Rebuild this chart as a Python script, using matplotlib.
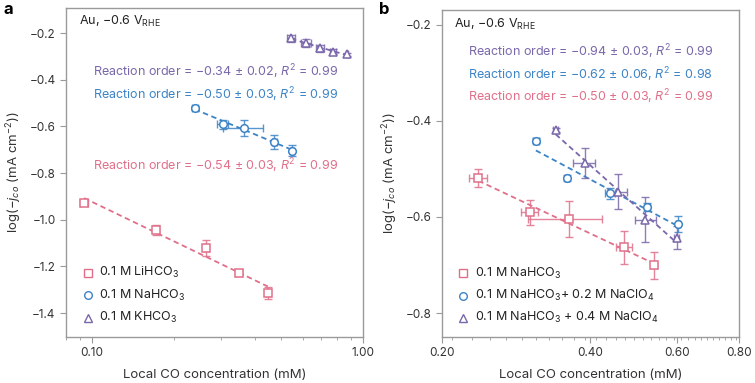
import matplotlib
matplotlib.use('Agg')
import matplotlib.pyplot as plt
import numpy as np
from matplotlib.ticker import FixedLocator, NullFormatter

plt.rcParams['font.family'] = ['Inter', 'DejaVu Sans']
plt.rcParams['mathtext.fontset'] = 'custom'
plt.rcParams['mathtext.rm'] = 'Inter'
plt.rcParams['mathtext.it'] = 'Inter:italic'

red = '#e0708a'
blue = '#3d84c6'
purple = '#7a68aa'
spine_col = '#9a9a9a'
text_col = '#333333'

# panel a: cation series
a_li_x = [0.0934, 0.172, 0.263, 0.348, 0.445]
a_li_y = [-0.927, -1.044, -1.122, -1.227, -1.315]
a_li_xerr = [0.003, 0.004, 0.005, 0.008, 0.008]
a_li_yerr = [0.008, 0.02, 0.035, 0.01, 0.025]

a_na_x = [0.239, 0.303, 0.365, 0.471, 0.546]
a_na_y = [-0.522, -0.591, -0.606, -0.666, -0.704]
a_na_xerr = [0.006, 0.015, 0.062, 0.01, 0.01]
a_na_yerr = [0.01, 0.02, 0.035, 0.03, 0.022]

a_k_x = [0.542, 0.616, 0.693, 0.774, 0.873]
a_k_y = [-0.223, -0.242, -0.266, -0.280, -0.291]
a_k_xerr = [0.02, 0.025, 0.025, 0.02, 0.01]
a_k_yerr = [0.014, 0.016, 0.016, 0.01, 0.006]

a_labels = ['0.1 M LiHCO$_3$', '0.1 M NaHCO$_3$', '0.1 M KHCO$_3$']
a_orders = ['Reaction order = \u22120.54 \u00b1 0.03, $\\mathit{R}^2$ = 0.99',
            'Reaction order = \u22120.50 \u00b1 0.03, $\\mathit{R}^2$ = 0.99',
            'Reaction order = \u22120.34 \u00b1 0.02, $\\mathit{R}^2$ = 0.99']

# panel b: NaClO4 series
b_0_x = [0.237, 0.301, 0.361, 0.468, 0.538]
b_0_y = [-0.519, -0.590, -0.604, -0.663, -0.701]
b_0_xerr = [0.01, 0.012, 0.062, 0.018, 0.008]
b_0_yerr = [0.018, 0.026, 0.038, 0.034, 0.028]

b_2_x = [0.310, 0.358, 0.438, 0.521, 0.602]
b_2_y = [-0.441, -0.519, -0.551, -0.579, -0.615]
b_2_xerr = [0.004, 0.003, 0.01, 0.006, 0.006]
b_2_yerr = [0.005, 0.006, 0.012, 0.008, 0.016]

b_4_x = [0.340, 0.389, 0.455, 0.517, 0.598]
b_4_y = [-0.419, -0.488, -0.547, -0.606, -0.643]
b_4_xerr = [0.004, 0.02, 0.02, 0.025, 0.008]
b_4_yerr = [0.005, 0.031, 0.036, 0.047, 0.024]

b_labels = ['0.1 M NaHCO$_3$', '0.1 M NaHCO$_3$+ 0.2 M NaClO$_4$',
            '0.1 M NaHCO$_3$ + 0.4 M NaClO$_4$']
b_orders = ['Reaction order = \u22120.50 \u00b1 0.03, $\\mathit{R}^2$ = 0.99',
            'Reaction order = \u22120.62 \u00b1 0.06, $\\mathit{R}^2$ = 0.98',
            'Reaction order = \u22120.94 \u00b1 0.03, $\\mathit{R}^2$ = 0.99']


def draw_series(ax, x, y, xerr, yerr, color, marker):
    x = np.array(x)
    y = np.array(y)
    # dashed fit in log-log
    k, b = np.polyfit(np.log10(x), y, 1)
    xx = np.array([x.min(), x.max()])
    ax.plot(xx, k * np.log10(xx) + b, ls=(0, (3, 2)), color=color, lw=1.3, zorder=2)
    ax.errorbar(x, y, xerr=xerr, yerr=yerr, fmt='none', ecolor=color, elinewidth=1,
                capsize=3, capthick=1, alpha=0.85, zorder=3)
    ax.plot(x, y, ls='none', marker=marker, ms=5.5, mfc='white', mec=color, mew=1.1, zorder=4)


def style_axes(ax):
    for s in ax.spines.values():
        s.set_color(spine_col)
        s.set_linewidth(1)
    ax.tick_params(axis='both', which='both', color=spine_col, labelcolor=text_col,
                   labelsize=8.5, direction='out')
    ax.tick_params(axis='both', which='major', length=4)
    ax.tick_params(axis='x', which='minor', length=2)
    ax.tick_params(top=False, right=False)
    ax.set_xlabel('Local CO concentration (mM)', fontsize=9.5, color=text_col, labelpad=7)
    ax.set_ylabel('log(\u2212$\\mathit{j}_{\\mathit{co}}$ (mA cm$^{\u22122}$))',
                  fontsize=9.5, color=text_col, labelpad=4)


fig = plt.figure(figsize=(7.55, 3.83), dpi=100)
ax_a = fig.add_axes([0.0874, 0.120, 0.3934, 0.859])
ax_b = fig.add_axes([0.5854, 0.120, 0.3934, 0.854])

markers = ['s', 'o', '^']
fs = 9

# ---- panel a
cols = [red, blue, purple]
draw_series(ax_a, a_li_x, a_li_y, a_li_xerr, a_li_yerr, red, 's')
draw_series(ax_a, a_na_x, a_na_y, a_na_xerr, a_na_yerr, blue, 'o')
draw_series(ax_a, a_k_x, a_k_y, a_k_xerr, a_k_yerr, purple, '^')
ax_a.set_xscale('log')
ax_a.set_xlim(0.08, 1.0)
ax_a.set_ylim(-1.503, -0.093)
ax_a.xaxis.set_major_locator(FixedLocator([0.1, 1.0]))
ax_a.set_xticklabels(['0.10', '1.00'])
ax_a.xaxis.set_minor_formatter(NullFormatter())
ax_a.set_yticks([-0.2, -0.4, -0.6, -0.8, -1.0, -1.2, -1.4])
ax_a.set_yticklabels(['\u22120.2', '\u22120.4', '\u22120.6', '\u22120.8', '\u22121.0', '\u22121.2', '\u22121.4'])
style_axes(ax_a)

ax_a.text(0.045, 0.96, 'Au, \u22120.6 V$_{\\mathrm{RHE}}$', transform=ax_a.transAxes,
          fontsize=fs, color='#222222', va='center', ha='left')
ax_a.text(0.09, 0.808, a_orders[2], transform=ax_a.transAxes, fontsize=fs, color=purple, va='center')
ax_a.text(0.09, 0.736, a_orders[1], transform=ax_a.transAxes, fontsize=fs, color=blue, va='center')
ax_a.text(0.09, 0.522, a_orders[0], transform=ax_a.transAxes, fontsize=fs, color=red, va='center')

for i, (lab, c, m) in enumerate(zip(a_labels, cols, markers)):
    yy = 0.195 - i * 0.068
    ax_a.plot([0.074], [yy], transform=ax_a.transAxes, marker=m, ms=5.5, mfc='white',
              mec=c, mew=1, ls='none')
    ax_a.text(0.11, yy, lab, transform=ax_a.transAxes, fontsize=fs, color='#222222', va='center')

# ---- panel b
draw_series(ax_b, b_0_x, b_0_y, b_0_xerr, b_0_yerr, red, 's')
draw_series(ax_b, b_2_x, b_2_y, b_2_xerr, b_2_yerr, blue, 'o')
draw_series(ax_b, b_4_x, b_4_y, b_4_xerr, b_4_yerr, purple, '^')
ax_b.set_xscale('log')
ax_b.set_xlim(0.2, 0.8)
ax_b.set_ylim(-0.85, -0.169)
ax_b.xaxis.set_major_locator(FixedLocator([0.2, 0.4, 0.6, 0.8]))
ax_b.set_xticklabels(['0.20', '0.40', '0.60', '0.80'])
ax_b.xaxis.set_minor_locator(FixedLocator(np.arange(0.21, 0.8, 0.02)))
ax_b.xaxis.set_minor_formatter(NullFormatter())
ax_b.set_yticks([-0.2, -0.4, -0.6, -0.8])
ax_b.set_yticklabels(['\u22120.2', '\u22120.4', '\u22120.6', '\u22120.8'])
style_axes(ax_b)

ax_b.text(0.04, 0.955, 'Au, \u22120.6 V$_{\\mathrm{RHE}}$', transform=ax_b.transAxes,
          fontsize=fs, color='#222222', va='center', ha='left')
ax_b.text(0.087, 0.872, b_orders[2], transform=ax_b.transAxes, fontsize=fs, color=purple, va='center')
ax_b.text(0.087, 0.803, b_orders[1], transform=ax_b.transAxes, fontsize=fs, color=blue, va='center')
ax_b.text(0.087, 0.734, b_orders[0], transform=ax_b.transAxes, fontsize=fs, color=red, va='center')

for i, (lab, c, m) in enumerate(zip(b_labels, cols, markers)):
    yy = 0.195 - i * 0.068
    ax_b.plot([0.072], [yy], transform=ax_b.transAxes, marker=m, ms=5.5, mfc='white',
              mec=c, mew=1, ls='none')
    ax_b.text(0.11, yy, lab, transform=ax_b.transAxes, fontsize=fs, color='#222222', va='center')

fig.text(0.004, 0.975, 'a', fontsize=12, fontweight='bold', va='center', ha='left')
fig.text(0.502, 0.975, 'b', fontsize=12, fontweight='bold', va='center', ha='left')

fig.savefig('out.png', dpi=100)
